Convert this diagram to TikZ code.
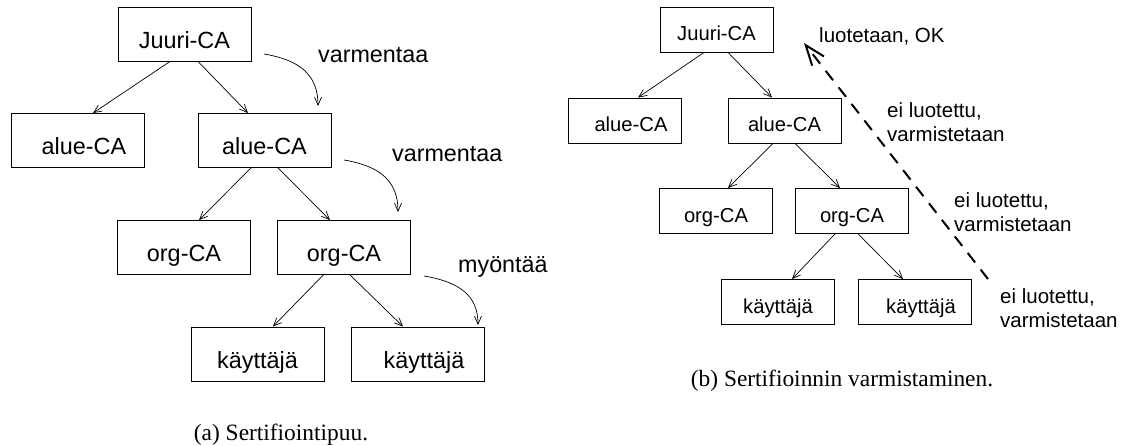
\documentclass[tikz,border=0pt]{standalone}
\usepackage{fontspec}
\setmainfont{Liberation Serif}
\setsansfont{Liberation Sans}
\usetikzlibrary{arrows.meta}
\begin{document}
\begin{tikzpicture}[x=1pt,y=-1pt,
  bigbox/.style={draw, line width=0.9pt, minimum width=133pt, minimum height=54pt, inner sep=0pt,
    text height=28pt, text depth=0pt, font=\sffamily\fontsize{23.4}{28}\selectfont},
  smallbox/.style={draw, line width=0.9pt, minimum width=113pt, minimum height=45pt, inner sep=0pt,
    text height=22pt, text depth=0pt, font=\sffamily\fontsize{20.2}{24}\selectfont},
  tarrow/.style={line width=0.7pt, -{Straight Barb[length=8pt,width=7pt,line width=0.7pt]}},
  biglbl/.style={inner sep=0pt, anchor=base west, font=\sffamily\fontsize{23.3}{28}\selectfont},
  smalllbl/.style={inner sep=0pt, anchor=base west, align=left, font=\sffamily\fontsize{20.5}{24}\selectfont},
  captionlbl/.style={inner sep=0pt, anchor=base, font=\rmfamily\fontsize{23.4}{28}\selectfont},
  trustarrow/.style={line width=2pt, dash pattern=on 12pt off 9pt,
    -{Straight Barb[length=20pt,width=15pt,line width=2pt]}}
]
\useasboundingbox (0,0) rectangle (1125,445);

% ---- (a) left tree ----
\node[bigbox] (LJ)  at (184.5,34)   {Juuri-CA};
\node[bigbox] (LA1) at (77.5,140.5) {\hspace*{13pt}alue-CA};
\node[bigbox] (LA2) at (264.5,140.5){alue-CA};
\node[bigbox] (LO1) at (184,247.5)  {org-CA};
\node[bigbox] (LO2) at (344,247.5)  {org-CA};
\node[bigbox] (LK1) at (257.5,354)  {käyttäjä};
\node[bigbox] (LK2) at (417.5,354)  {\hspace*{13pt}käyttäjä};

\draw[tarrow] ([xshift=-14.5pt]LJ.south) -- ([xshift=15.5pt]LA1.north);
\draw[tarrow] ([xshift=13.5pt]LJ.south) -- ([xshift=-16.5pt]LA2.north);
\draw[tarrow] ([xshift=-13.5pt]LA2.south) -- ([xshift=15pt]LO1.north);
\draw[tarrow] ([xshift=13.5pt]LA2.south) -- ([xshift=-14pt]LO2.north);
\draw[tarrow] ([xshift=-20.7pt]LO2.south) -- ([xshift=15.5pt]LK1.north);
\draw[tarrow] ([xshift=6pt]LO2.south) -- ([xshift=-14.5pt]LK2.north);

\coordinate (c1s) at (264,54);  \coordinate (c1e) at (318,106);
\coordinate (c2s) at (344,160); \coordinate (c2e) at (398,212);
\coordinate (c3s) at (424,276); \coordinate (c3e) at (478,325);
\draw[tarrow] (c1s) .. controls +(36,6) and +(0,-31) .. (c1e);
\draw[tarrow] (c2s) .. controls +(36,6) and +(0,-31) .. (c2e);
\draw[tarrow] (c3s) .. controls +(36,6) and +(0,-29) .. (c3e);

\node[biglbl] (l1) at (318,62)  {varmentaa};
\node[biglbl] (l2) at (392,161) {varmentaa};
\node[biglbl] (l3) at (458,272) {myöntää};

\node[captionlbl] (capa) at (281,440) {(a) Sertifiointipuu.};

% ---- (b) right tree ----
\node[smallbox] (RJ)  at (716.5,29.5)  {Juuri-CA};
\node[smallbox] (RA1) at (625,120.5)   {\hspace*{12pt}alue-CA};
\node[smallbox] (RA2) at (784.5,120.5) {alue-CA};
\node[smallbox] (RO1) at (716,211)     {org-CA};
\node[smallbox] (RO2) at (852,211)     {org-CA};
\node[smallbox] (RK1) at (778,302)     {käyttäjä};
\node[smallbox] (RK2) at (915,302)     {\hspace*{12pt}käyttäjä};

\draw[tarrow] ([xshift=-12.5pt]RJ.south) -- ([xshift=13pt]RA1.north);
\draw[tarrow] ([xshift=11.5pt]RJ.south) -- ([xshift=-12.5pt]RA2.north);
\draw[tarrow] ([xshift=-11.5pt]RA2.south) -- ([xshift=12pt]RO1.north);
\draw[tarrow] ([xshift=10.5pt]RA2.south) -- ([xshift=-12pt]RO2.north);
\draw[tarrow] ([xshift=-17pt]RO2.south) -- ([xshift=14pt]RK1.north);
\draw[tarrow] ([xshift=6pt]RO2.south) -- ([xshift=-12pt]RK2.north);

\coordinate (ds) at (988,279);
\coordinate (de) at (804,43);
\draw[trustarrow] (ds) -- (de);

\node[smalllbl] (t0) at (819,42)   {luotetaan, OK};
\node[smalllbl] (t1) at (887,141)  {ei luotettu,\\varmistetaan};
\node[smalllbl] (t2) at (954,231)  {ei luotettu,\\varmistetaan};
\node[smalllbl] (t3) at (1000,327) {ei luotettu,\\varmistetaan};

\node[captionlbl] (capb) at (842,386) {(b) Sertifioinnin varmistaminen.};
\end{tikzpicture}
\end{document}
